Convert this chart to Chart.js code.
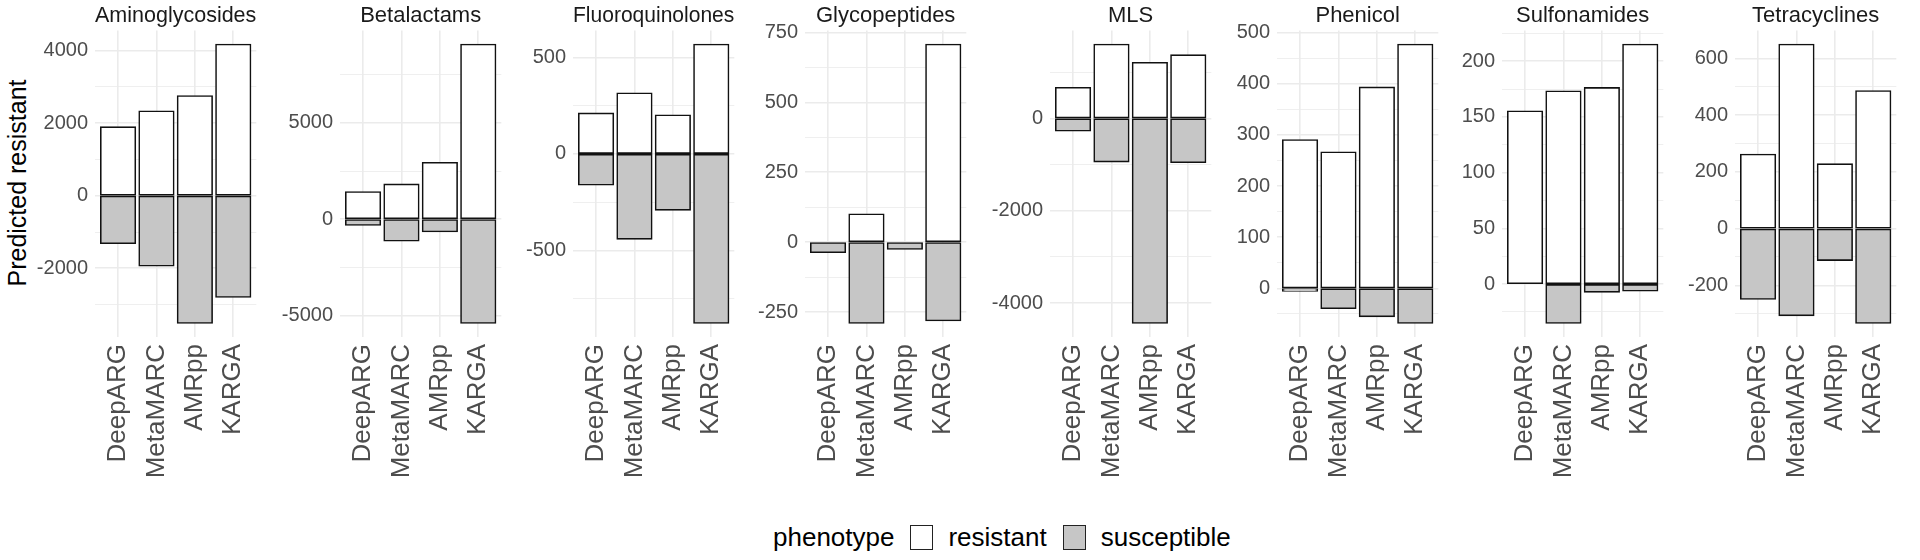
<!DOCTYPE html>
<html>
<head>
<meta charset="utf-8">
<script src="https://cdn.jsdelivr.net/npm/chart.js@4.4.1/dist/chart.umd.min.js"></script>
<style>
  body { margin: 0; background: #fff; width: 1920px; height: 560px; overflow: hidden; position: relative;
         font-family: "Liberation Sans", Arial, sans-serif; }
  canvas { position: absolute; top: 0; }
  #ytitle { position: absolute; left: 17px; top: 183px; transform: translate(-50%, -50%) rotate(-90deg);
            font-size: 25px; white-space: nowrap; color: #000; }
  #legend { position: absolute; left: 773px; top: 522px; height: 30px; display: flex; align-items: center;
            font-size: 26px; color: #000; white-space: nowrap; }
  .key { width: 23px; height: 25px; border: 1.5px solid #222; box-sizing: border-box; margin: 0 15px 0 16px; }
</style>
</head>
<body>
<div id="ytitle">Predicted resistant</div>
<div id="legend">
  <span>phenotype</span>
  <div class="key" style="background:#fff"></div>
  <span>resistant</span>
  <div class="key" style="background:#c6c6c6"></div>
  <span>susceptible</span>
</div>
<script>
// facets, tools and counts
const classes = ["Aminoglycosides", "Betalactams", "Fluoroquinolones", "Glycopeptides",
                 "MLS", "Phenicol", "Sulfonamides", "Tetracyclines"];
const tools = ["DeepARG", "MetaMARC", "AMRpp", "KARGA"];

// resistant counts (positive), one row per class
const resistant = [
    [1890, 2330, 2750, 4170],
    [1410, 1810, 2930, 9070],
    [210, 314, 200, 567],
    [0, 100, 0, 707],
    [662, 1600, 1203, 1369],
    [290, 266, 393, 477],
    [155, 173, 176, 215],
    [261, 649, 227, 485]
];
// susceptible counts (plotted negative)
const susceptible = [
    [-1310, -1930, -3510, -2790],
    [-300, -1120, -640, -5390],
    [-160, -440, -290, -876],
    [-36, -289, -24, -280],
    [-268, -938, -4432, -951],
    [-5, -39, -55, -68],
    [0, -35, -7, -6],
    [-248, -306, -111, -333]
];
// labelled y breaks per panel
const yTicks = [
    [-2000, 0, 2000, 4000],
    [-5000, 0, 5000],
    [-500, 0, 500],
    [-250, 0, 250, 500, 750],
    [-4000, -2000, 0],
    [0, 100, 200, 300, 400, 500],
    [0, 50, 100, 150, 200],
    [-200, 0, 200, 400, 600]
];

// layout
const panelLeft = [95, 340, 573, 805, 1050, 1277, 1502, 1735];
const AXIS_W = 80;     // room for y tick labels
const PANEL_W = 179;
const PANEL_BOTTOM = 337;
const XAXIS_H = 170;
const BORDER = 1.6;

Chart.defaults.font.family = '"Liberation Sans", Arial, sans-serif';

// major breaks plus ggplot-style minor breaks inside the limits
function gridValues(majors, min, max) {
    const step = majors.length > 1 ? majors[1] - majors[0] : 100;
    const out = [];
    for (let v = majors[0] - step; v <= majors[majors.length - 1] + step + 1e-9; v += step / 2) {
        if (v >= min && v <= max) out.push(v);
    }
    return out;
}

classes.forEach((name, k) => {
    const cv = document.createElement('canvas');
    cv.width = AXIS_W + PANEL_W;
    cv.height = PANEL_BOTTOM + XAXIS_H;
    cv.style.left = (panelLeft[k] - AXIS_W) + 'px';
    document.body.appendChild(cv);

    // 5% expansion like ggplot
    const lo = Math.min(0, ...susceptible[k]);
    const hi = Math.max(0, ...resistant[k]);
    const pad = (hi - lo) * 0.05;
    const ymin = lo - pad, ymax = hi + pad;
    const majors = yTicks[k];
    const allY = gridValues(majors, ymin, ymax);

    // border centred on the bar edge so both halves share the zero line
    const barStyle = {
        borderColor: '#111',
        borderWidth: BORDER,
        borderSkipped: false,
        inflateAmount: BORDER / 2,
        grouped: false,
        barPercentage: 0.9,
        categoryPercentage: 1
    };

    new Chart(cv, {
        type: 'bar',
        data: {
            datasets: [
                Object.assign({
                    label: 'resistant',
                    data: resistant[k].map((v, i) => ({ x: i + 1, y: v })),
                    backgroundColor: '#ffffff'
                }, barStyle),
                Object.assign({
                    label: 'susceptible',
                    data: susceptible[k].map((v, i) => ({ x: i + 1, y: v })),
                    backgroundColor: '#c6c6c6'
                }, barStyle)
            ]
        },
        options: {
            responsive: false,
            animation: false,
            events: [],
            layout: { padding: 0 },
            plugins: {
                legend: { display: false },
                tooltip: { enabled: false },
                title: {
                    display: true,
                    text: name,
                    fullSize: false,
                    color: '#1a1a1a',
                    font: { size: 22, weight: 'normal' },
                    padding: { top: 3, bottom: 1.1 }
                }
            },
            scales: {
                x: {
                    type: 'linear',
                    min: 0.4,
                    max: 4.6,
                    offset: false,
                    border: { display: false },
                    grid: { color: '#ebebeb', lineWidth: 1.6, drawTicks: false, offset: false },
                    afterBuildTicks: s => { s.ticks = tools.map((t, i) => ({ value: i + 1 })); },
                    afterFit: s => { s.height = XAXIS_H; },
                    ticks: {
                        autoSkip: false,
                        minRotation: 90,
                        maxRotation: 90,
                        padding: 7,
                        color: '#4d4d4d',
                        font: { size: 26 },
                        callback: v => tools[v - 1]
                    }
                },
                y: {
                    min: ymin,
                    max: ymax,
                    border: { display: false },
                    grid: {
                        color: '#ebebeb',
                        drawTicks: false,
                        lineWidth: c => (c.tick && majors.includes(c.tick.value)) ? 1.6 : 0.8
                    },
                    afterBuildTicks: s => { s.ticks = allY.map(v => ({ value: v })); },
                    afterFit: s => { s.width = AXIS_W; },
                    ticks: {
                        autoSkip: false,
                        padding: 7,
                        color: '#4d4d4d',
                        font: { size: 20 },
                        callback: v => majors.includes(v) ? String(v) : ''
                    }
                }
            }
        }
    });
});
</script>
</body>
</html>
